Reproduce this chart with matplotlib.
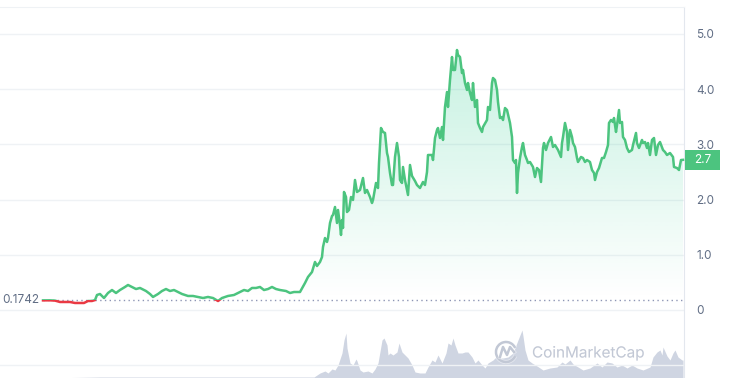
import numpy as np
import matplotlib
matplotlib.use("Agg")
import matplotlib.pyplot as plt
import matplotlib.patheffects as pe
from matplotlib.patches import Polygon, Rectangle, Arc
from matplotlib.transforms import blended_transform_factory

plt.rcParams["font.family"] = ["Inter", "DejaVu Sans"]

# price history (day index, price in USD)
days = [0, 7, 12, 17, 22, 27, 32, 37, 41, 45, 49, 52, 54, 57, 61, 65, 69, 73, 77, 82,
        85, 89, 93, 97, 103, 107, 110, 115, 119, 123, 127, 131, 135, 139, 145, 150, 155, 160, 165, 170,
        175, 179, 185, 191, 195, 201, 205, 209, 213, 217, 221, 225, 229, 233, 237, 243, 247, 251, 257, 262,
        265, 269, 272, 274, 277, 279, 280, 282, 284, 285, 287, 289, 290, 292, 294, 295, 297, 298, 299, 300,
        301, 303, 304, 306, 308, 310, 312, 314, 317, 320, 322, 324, 327, 329, 330, 333, 335, 336, 338, 340,
        342, 344, 345, 347, 349, 350, 352, 354, 356, 357, 359, 360, 362, 364, 365, 367, 369, 372, 374, 377,
        380, 382, 384, 385, 389, 390, 392, 394, 395, 397, 399, 400, 402, 404, 405, 407, 409, 410, 412, 414,
        415, 417, 419, 420, 422, 424, 425, 427, 429, 430, 432, 434, 435, 437, 439, 440, 444, 445, 447, 449,
        450, 452, 454, 455, 457, 459, 460, 462, 464, 467, 469, 470, 472, 473, 474, 475, 477, 479, 480, 482,
        484, 485, 487, 490, 492, 494, 496, 498, 500, 501, 503, 505, 508, 510, 512, 515, 518, 519, 520, 522,
        524, 525, 527, 529, 530, 532, 534, 535, 538, 540, 542, 544, 547, 549, 551, 552, 554, 556, 559, 561,
        563, 565, 566, 568, 570, 571, 573, 574, 576, 577, 579, 580, 582, 584, 586, 589, 590, 593, 594, 596,
        599, 600, 602, 604, 605, 607, 609, 611, 613, 615, 617, 620, 622, 624, 627, 630, 631, 634, 636, 638,
        640]
prices = [0.1742, 0.175, 0.17, 0.145, 0.145, 0.145, 0.127, 0.127, 0.127, 0.163, 0.163, 0.18, 0.272, 0.290, 0.217, 0.308, 0.362, 0.308, 0.362, 0.417,
          0.453, 0.417, 0.380, 0.399, 0.344, 0.290, 0.236, 0.290, 0.344, 0.380, 0.344, 0.362, 0.326, 0.290, 0.254, 0.254, 0.236, 0.217, 0.236, 0.217,
          0.163, 0.217, 0.254, 0.272, 0.308, 0.362, 0.344, 0.399, 0.399, 0.417, 0.362, 0.380, 0.417, 0.380, 0.362, 0.344, 0.308, 0.326, 0.326, 0.489,
          0.598, 0.688, 0.870, 0.797, 0.870, 0.960, 1.141, 1.304, 1.232, 1.304, 1.576, 1.703, 1.721, 1.866, 1.576, 1.812, 1.540, 1.359, 1.630, 1.486,
          2.138, 2.047, 1.775, 1.812, 2.047, 1.993, 2.355, 2.138, 2.174, 2.391, 2.120, 2.174, 2.047, 1.938, 1.993, 2.301, 2.210, 2.663, 3.297, 3.225,
          3.207, 2.844, 2.772, 2.482, 2.264, 2.264, 2.772, 3.025, 2.772, 2.355, 2.301, 2.591, 2.355, 2.174, 2.083, 2.627, 2.428, 2.337, 2.264, 2.210,
          2.319, 2.264, 2.500, 2.808, 2.808, 2.717, 3.116, 3.261, 3.297, 3.116, 3.315, 3.080, 3.678, 3.949, 3.678, 4.167, 4.583, 4.348, 4.348, 4.710,
          4.620, 4.583, 4.293, 4.348, 4.112, 3.986, 4.112, 3.931, 3.804, 4.112, 3.678, 3.804, 3.388, 3.297, 3.225, 3.315, 3.442, 3.678, 3.623, 4.112,
          4.203, 4.167, 3.986, 3.768, 3.478, 3.496, 3.442, 3.659, 3.623, 3.388, 3.134, 2.717, 2.663, 2.717, 2.120, 2.482, 2.754, 2.953, 3.025, 2.808,
          2.717, 2.663, 2.681, 2.591, 2.409, 2.572, 2.536, 2.319, 2.935, 3.025, 2.899, 3.025, 3.134, 2.953, 2.989, 2.899, 2.772, 3.025, 3.134, 3.388,
          3.225, 2.899, 3.261, 3.134, 3.025, 2.953, 2.754, 2.681, 2.772, 2.754, 2.681, 2.717, 2.681, 2.536, 2.482, 2.355, 2.500, 2.572, 2.754, 2.754,
          2.862, 2.989, 3.388, 3.442, 3.406, 3.478, 3.225, 3.351, 3.623, 3.388, 3.406, 3.134, 3.080, 2.935, 2.862, 2.899, 2.989, 3.207, 3.025, 2.935,
          3.080, 3.025, 3.043, 2.935, 3.025, 2.808, 3.080, 3.116, 2.808, 2.989, 3.043, 2.899, 2.862, 2.808, 2.844, 2.772, 2.591, 2.572, 2.536, 2.717,
          2.72]

# trading volume (day index, volume in $M)
vol_days = [0, 57, 150, 250, 271, 277, 282, 285, 289, 292, 295, 299, 301, 303, 304, 307, 310, 313, 314, 317,
            320, 325, 329, 332, 335, 339, 341, 344, 345, 347, 350, 354, 356, 359, 362, 365, 369, 372, 377, 382,
            385, 389, 392, 395, 399, 403, 405, 408, 410, 412, 415, 419, 422, 425, 429, 432, 435, 439, 442, 445,
            450, 454, 457, 460, 465, 470, 475, 479, 480, 482, 485, 489, 494, 500, 507, 514, 519, 522, 527, 530,
            535, 540, 547, 554, 559, 564, 569, 574, 579, 584, 589, 594, 600, 607, 610, 614, 617, 619, 620, 624,
            627, 630, 632, 635, 639, 640]
volumes = [0, 1, 1, 1, 1, 5, 7, 5, 9, 8, 13, 25, 38, 45, 30, 15, 13, 19, 17, 8,
           6, 7, 5, 9, 15, 38, 40, 33, 23, 25, 23, 26, 35, 26, 23, 20, 13, 6, 5, 5,
           11, 18, 16, 23, 15, 25, 35, 33, 40, 33, 25, 25, 26, 26, 21, 15, 18, 13, 10, 15,
           18, 22, 20, 20, 21, 25, 38, 48, 42, 28, 18, 15, 12, 8, 10, 11, 16, 14, 18, 14,
           11, 8, 10, 15, 11, 16, 15, 11, 13, 10, 13, 10, 8, 11, 21, 26, 28, 23, 31, 22,
           18, 25, 28, 21, 18, 18]

base = prices[0]
green = "#4cc47f"
red = "#ea3943"
text_col = "#616e85"
grid_col = "#eff2f5"

fig = plt.figure(figsize=(7.3, 3.78), dpi=100)
rect = [0, 0, 684 / 730, 371 / 378]

# volume in the background
axv = fig.add_axes(rect)
axv.fill_between(vol_days, volumes, 0, color="#cfd5e2", lw=0)
axv.set_xlim(-43, 641)
axv.set_ylim(0, 371)
axv.axis("off")

ax = fig.add_axes(rect, facecolor="none")
ax.set_xlim(-43, 641)
ax.set_ylim(-1.232, 5.489)

for v in range(-1, 6):
    ax.axhline(v, color=grid_col, lw=1, zorder=0)

# gradient area under the line (above start price)
x = np.array(days)
y = np.array(prices)
verts = list(zip(x, np.maximum(y, base))) + [(x[-1], base), (x[0], base)]
poly = Polygon(verts, closed=True, facecolor="none", edgecolor="none")
ax.add_patch(poly)
grad = np.zeros((256, 1, 4))
grad[:, 0, :3] = matplotlib.colors.to_rgb("#16c784")
grad[:, 0, 3] = np.linspace(0.0, 0.24, 256)
im = ax.imshow(grad, extent=[x[0], x[-1], base, max(prices)], origin="lower",
               aspect="auto", zorder=1)
im.set_clip_path(poly)

# line: green above start price, red below
up = ax.plot(days, prices, color=green, lw=1.8, zorder=3, solid_joinstyle="round")[0]
dn = ax.plot(days, prices, color=red, lw=1.8, zorder=3, solid_joinstyle="round")[0]
up.set_clip_path(Rectangle((-100, base), 1000, 10, transform=ax.transData))
dn.set_clip_path(Rectangle((-100, -5), 1000, base + 5, transform=ax.transData))

ax.hlines(base, days[0], days[-1], colors="#8e96b5", lw=1, linestyles=(0, (1, 2.4)), zorder=2)

bt = blended_transform_factory(ax.transAxes, ax.transData)
ax.text(0.003, base, f"{base:.4f}", transform=bt, ha="left", va="center",
        color=text_col, fontsize=8.5)

# axis styling
ax.yaxis.tick_right()
ax.set_yticks([0, 1, 2, 3, 4, 5])
ax.set_yticklabels(["0", "1.0", "2.0", "3.0", "4.0", "5.0"])
ax.set_xticks([])
ax.tick_params(axis="y", length=0, pad=9, labelcolor=text_col, labelsize=8.5)
for s in ["left", "bottom"]:
    ax.spines[s].set_visible(False)
ax.spines["top"].set_color(grid_col)
ax.spines["right"].set_color("#e3e7ee")

# last price tag
last = prices[-1]
ax.add_patch(Rectangle((1.0015, last - 0.18), 0.051, 0.36, transform=bt,
                       facecolor=green, edgecolor="none", clip_on=False, zorder=5))
ax.text(1.027, last, f"{last:.1f}", transform=bt, ha="center", va="center",
        color="white", fontsize=8.5, zorder=6, clip_on=False)

# watermark
wm = "#c2c8d5"
halo = [pe.withStroke(linewidth=3, foreground="white", alpha=0.45)]
fig.text(588 / 730, 1 - 353 / 378, "CoinMarketCap", ha="center", va="center",
         color=wm, fontsize=11, path_effects=halo)
fig.add_artist(Arc((506 / 730, 1 - 352 / 378), 20 / 730, 20 / 378, theta1=40, theta2=320,
                   transform=fig.transFigure, color=wm, lw=1.8, path_effects=halo))
fig.add_artist(plt.Line2D([500 / 730, 503 / 730, 507 / 730, 510 / 730, 514 / 730],
                          [1 - 357 / 378, 1 - 347 / 378, 1 - 355 / 378, 1 - 347 / 378, 1 - 352 / 378],
                          transform=fig.transFigure, color=wm, lw=1.8, path_effects=halo))

fig.savefig("out.png", dpi=100)
